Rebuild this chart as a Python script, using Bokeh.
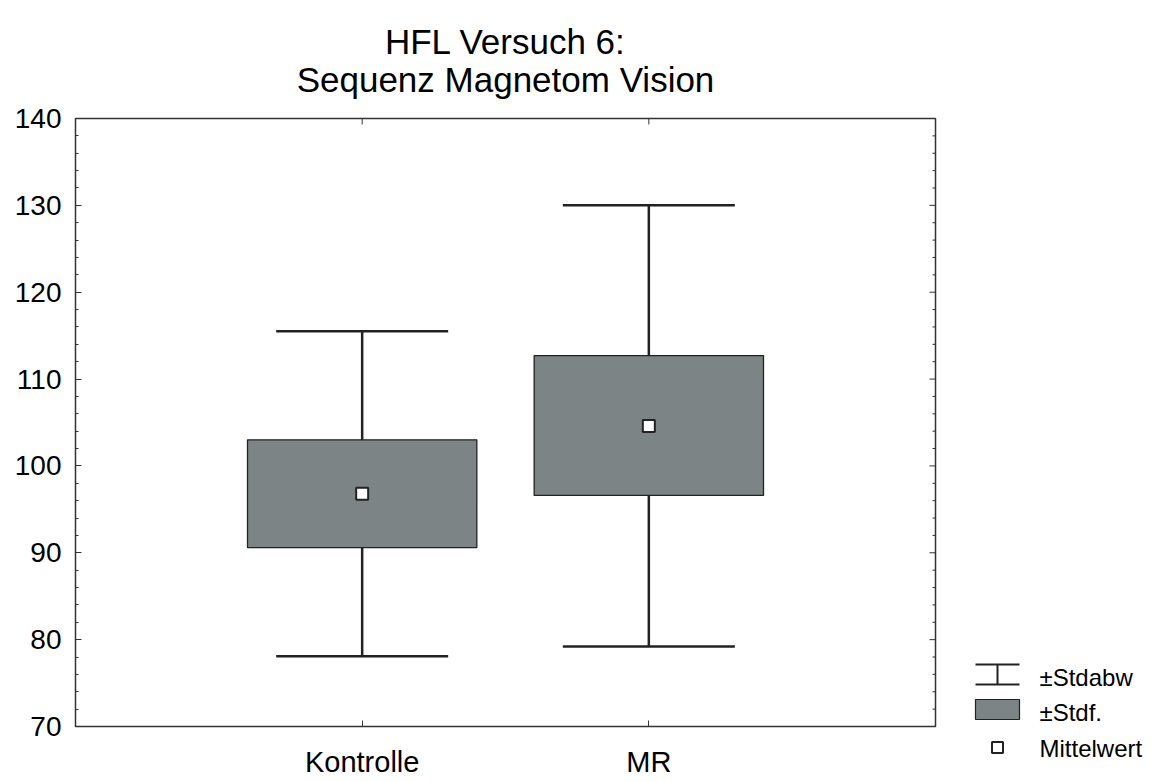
import math
from bokeh.plotting import figure
from bokeh.models import Range1d, FixedTicker
from bokeh.layouts import row, column
from bokeh.embed import file_html
from bokeh.resources import INLINE
from bokeh.core.properties import value

# ---- data ----
categories = ["Kontrolle", "MR"]
means = [96.8, 104.6]
se_low = [90.6, 96.6]
se_high = [103.0, 112.7]
sd_low = [78.1, 79.2]
sd_high = [115.5, 130.0]
y_ticks = [70, 80, 90, 100, 110, 120, 130, 140]
y_minor = [v for v in range(70, 141, 2) if v % 10 != 0]
legend_labels = ["\u00b1Stdabw", "\u00b1Stdf.", "Mittelwert"]
title_lines = ["HFL Versuch 6:", "Sequenz Magnetom Vision"]

FONT = "Liberation Sans"
BOX = "#7c8486"
DARK = "#222222"
AX = "#333333"

W, H = 1154, 781
TITLE_H = 100          # height of the title strip
MAIN_W = 940           # width of the plotting figure

xpos = [i + 1 for i in range(len(categories))]
x_end = len(categories) + 1
CAP = 0.3
BOXW = 0.8

# ---- title strip (page-pixel coordinates) ----
tf = figure(width=W, height=TITLE_H, x_range=Range1d(0, W), y_range=Range1d(TITLE_H, 0),
            title=None, output_backend="svg", toolbar_location=None, min_border=0,
            x_axis_location=None, y_axis_location=None)
tf.frame_align = False
tf.grid.visible = False
tf.outline_line_color = None
tf.border_fill_color = "white"
tf.background_fill_color = "white"
tf.text(x=[505, 505], y=[41, 79], text=title_lines, text_font=value(FONT),
        text_font_size="35px", text_align="center", text_baseline="alphabetic",
        text_color="black")

# ---- main plot ----
p = figure(width=MAIN_W, height=H - TITLE_H, x_range=Range1d(0, x_end),
           y_range=Range1d(y_ticks[0], y_ticks[-1]), title=None,
           output_backend="svg", toolbar_location=None,
           min_border_left=75, min_border_right=5, min_border_top=118 - TITLE_H,
           min_border_bottom=55)
p.frame_align = False
p.background_fill_color = "white"
p.border_fill_color = "white"
p.grid.visible = False
p.outline_line_color = AX
p.outline_line_width = 1.5
p.outline_line_alpha = 1.0

# y axis
p.yaxis.ticker = FixedTicker(ticks=y_ticks, minor_ticks=y_minor)
p.yaxis.major_tick_in = 6
p.yaxis.major_tick_out = 0
p.yaxis.minor_tick_in = 3
p.yaxis.minor_tick_out = 0
p.yaxis.major_label_text_font_size = "28px"
p.yaxis.major_label_text_font = FONT
p.yaxis.major_label_text_color = "black"
p.yaxis.major_label_standoff = 14
p.yaxis.axis_line_color = AX
p.yaxis.major_tick_line_color = AX
p.yaxis.minor_tick_line_color = AX

# x axis
p.xaxis.ticker = FixedTicker(ticks=xpos)
p.xaxis.major_label_overrides = {x: c for x, c in zip(xpos, categories)}
p.xaxis.major_tick_in = 6
p.xaxis.major_tick_out = 0
p.xaxis.minor_tick_line_color = None
p.xaxis.major_label_text_font_size = "29px"
p.xaxis.major_label_text_font = FONT
p.xaxis.major_label_text_color = "black"
p.xaxis.major_label_standoff = 19
p.xaxis.axis_line_color = AX
p.xaxis.major_tick_line_color = AX

# right-side and top inward ticks (dash markers centred on the frame edge; outer half clipped)
p.scatter(x=[x_end] * len(y_ticks), y=y_ticks, marker="dash", size=12, line_color=AX, line_width=1)
p.scatter(x=[x_end] * len(y_minor), y=y_minor, marker="dash", size=6, line_color=AX, line_width=1)
p.scatter(x=xpos, y=[y_ticks[-1]] * len(xpos), marker="dash", angle=math.pi / 2, size=12,
          line_color=AX, line_width=1)

# whiskers
p.segment(x0=xpos, y0=sd_low, x1=xpos, y1=sd_high, line_color=DARK, line_width=2.5)
p.segment(x0=[x - CAP for x in xpos], y0=sd_high, x1=[x + CAP for x in xpos], y1=sd_high,
          line_color=DARK, line_width=2.5)
p.segment(x0=[x - CAP for x in xpos], y0=sd_low, x1=[x + CAP for x in xpos], y1=sd_low,
          line_color=DARK, line_width=2.5)
# boxes
p.vbar(x=xpos, width=BOXW, bottom=se_low, top=se_high, fill_color=BOX,
       line_color=DARK, line_width=1.3)
# means
p.scatter(x=xpos, y=means, marker="square", size=12, fill_color="white",
          line_color=DARK, line_width=2)

# ---- legend panel (page-pixel coordinates) ----
leg = figure(width=W - MAIN_W, height=H - TITLE_H, x_range=Range1d(MAIN_W, W),
             y_range=Range1d(H, TITLE_H),
             title=None, output_backend="svg", toolbar_location=None, min_border=0,
             x_axis_location=None, y_axis_location=None)
leg.frame_align = False
leg.grid.visible = False
leg.outline_line_color = None
leg.border_fill_color = "white"
leg.background_fill_color = "white"

row_y = [677, 712, 748]
sx0, sx1, sxc = 975, 1019, 997
leg.segment(x0=[sx0, sx0, sxc], y0=[664, 684, 664], x1=[sx1, sx1, sxc], y1=[664, 684, 684],
            line_color=DARK, line_width=2)
leg.quad(left=[sx0], right=[sx1], top=[699], bottom=[719], fill_color=BOX,
         line_color=DARK, line_width=1.2)
leg.scatter(x=[sxc], y=[row_y[2] - 1], marker="square", size=11, fill_color="white",
            line_color=DARK, line_width=2)
leg.text(x=[1039] * 3, y=row_y, text=legend_labels, text_font=value(FONT),
         text_font_size="24px", text_baseline="middle", text_align="left", text_color="black")

layout = column(tf, row(p, leg))
open("out.html", "w").write(file_html(layout, INLINE))
